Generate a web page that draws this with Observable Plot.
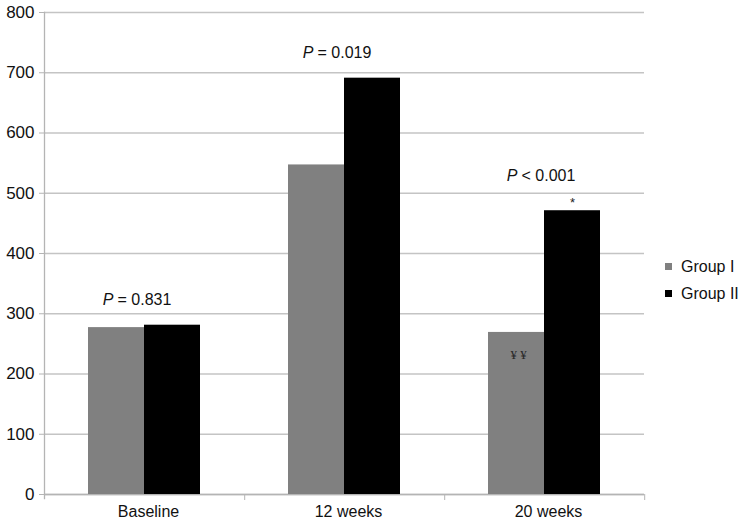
<!DOCTYPE html>
<html>
<head>
<meta charset="utf-8">
<script src="https://cdn.jsdelivr.net/npm/d3@7"></script>
<script src="https://cdn.jsdelivr.net/npm/@observablehq/plot@0.6"></script>
<style>
  body { margin: 0; background: white; }
  #wrap { position: relative; width: 743px; height: 525px; font-family: "Liberation Sans", Arial, sans-serif; }
  #legend { position: absolute; left: 665px; top: 253px; font-size: 16px; color: #111; }
  #legend .row { display: flex; align-items: center; height: 27px; }
  #legend .sw { width: 7px; height: 7px; margin-right: 9px; }
</style>
</head>
<body>
<div id="wrap"><div id="legend"></div></div>
<script>
const categories = ["Baseline", "12 weeks", "20 weeks"];
const groups = ["Group I", "Group II"];
const groupColors = ["#808080", "#000000"];
const groupI = [277, 547, 269];
const groupII = [281, 691, 471];
const yTicks = [0, 100, 200, 300, 400, 500, 600, 700, 800];
const pSymbol = ["P", "P", "P"];
const pValues = ["= 0.831", "= 0.019", "< 0.001"];
const starFlags = [false, false, true];       // "*" above Group II
const yenFlags = [false, false, true];        // "¥¥" inside Group I

const data = [];
categories.forEach((c, i) => {
  data.push({category: c, group: groups[0], value: groupI[i]});
  data.push({category: c, group: groups[1], value: groupII[i]});
});
const pData = categories.map((c, i) => ({
  category: c, top: Math.max(groupI[i], groupII[i]),
  sym: pSymbol[i], val: pValues[i], star: starFlags[i]
}));
const starData = categories.map((c, i) => ({category: c, group: groups[1], value: groupII[i], show: starFlags[i]})).filter(d => d.show);
const yenData = categories.map((c, i) => ({category: c, group: groups[0], value: groupI[i], show: yenFlags[i]})).filter(d => d.show);

const gridColor = "#c4c4c4";
const axisColor = "#b4b4b4";

const chart = Plot.plot({
  width: 743,
  height: 525,
  marginLeft: 43,
  marginRight: 99,
  marginTop: 12,
  marginBottom: 31,
  style: {fontFamily: "'Liberation Sans', Arial, sans-serif", fontSize: "16px", color: "#111", background: "white"},
  fx: {domain: categories, padding: 0, label: null, axis: null},
  x: {domain: groups, paddingInner: 0, paddingOuter: 0.76, axis: null},
  y: {domain: [0, 800], axis: null},
  color: {domain: groups, range: groupColors},
  marks: [
    Plot.gridY(yTicks, {stroke: gridColor, strokeOpacity: 1, strokeWidth: 1.6}),
    Plot.ruleY([0], {stroke: axisColor, strokeWidth: 1.3}),
    Plot.frame({anchor: "left", facetAnchor: "left", stroke: axisColor, strokeWidth: 1.3, insetBottom: -4}),
    Plot.axisY(yTicks, {anchor: "left", tickSize: 5, tickPadding: 5, stroke: axisColor, fontSize: 17, label: null, tickFormat: d => String(d)}),
    Plot.axisFx({anchor: "bottom", tickSize: 0, tickPadding: 11, fontSize: 16, label: null, dx: 4}),
    Plot.axisFx({anchor: "bottom", tickSize: 6, text: null, stroke: axisColor, label: null, dx: 100.2}),
    Plot.barY(data, {fx: "category", x: "group", y: "value", fill: "group"}),
    Plot.text(pData.filter(d => !d.star), {fx: "category", y: "top", text: "sym", fontStyle: "italic", textAnchor: "end", lineAnchor: "bottom", dy: -20, dx: -31, fontSize: 16}),
    Plot.text(pData.filter(d => !d.star), {fx: "category", y: "top", text: "val", textAnchor: "start", lineAnchor: "bottom", dy: -20, dx: -27, fontSize: 16}),
    Plot.text(pData.filter(d => d.star), {fx: "category", y: "top", text: "sym", fontStyle: "italic", textAnchor: "end", lineAnchor: "bottom", dy: -30, dx: -27, fontSize: 16}),
    Plot.text(pData.filter(d => d.star), {fx: "category", y: "top", text: "val", textAnchor: "start", lineAnchor: "bottom", dy: -30, dx: -23, fontSize: 16}),
    Plot.text(starData, {fx: "category", x: "group", y: "value", text: () => "*", lineAnchor: "bottom", dy: -4, fontSize: 13, fill: "#222"}),
    Plot.text(yenData, {fx: "category", x: "group", y: "value", text: () => "¥\u00a0¥", lineAnchor: "top", dy: 17, dx: 2, fontSize: 13, fontFamily: "'Liberation Serif', serif", fill: "#2a2a2a"})
  ]
});
document.getElementById("wrap").prepend(chart);

const legend = document.getElementById("legend");
groups.forEach((g, i) => {
  const row = document.createElement("div");
  row.className = "row";
  const sw = document.createElement("span");
  sw.className = "sw";
  sw.style.background = groupColors[i];
  const lab = document.createElement("span");
  lab.textContent = g;
  row.append(sw, lab);
  legend.append(row);
});
</script>
</body>
</html>
